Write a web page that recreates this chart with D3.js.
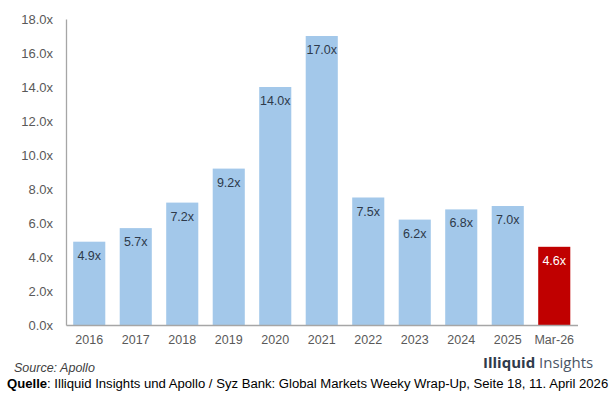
<!DOCTYPE html>
<html>
<head>
<meta charset="utf-8">
<script src="https://cdn.jsdelivr.net/npm/d3@7"></script>
<style>
  html, body { margin: 0; padding: 0; background: #ffffff; }
  svg { display: block; }
</style>
</head>
<body>
<svg id="chart" width="614" height="394"></svg>
<script>
// Categories, multiples and axis ticks
const categories = ["2016", "2017", "2018", "2019", "2020", "2021", "2022", "2023", "2024", "2025", "Mar-26"];
const multiples  = [4.9, 5.7, 7.2, 9.2, 14.0, 17.0, 7.5, 6.2, 6.8, 7.0, 4.6];
const highlighted = ["Mar-26"];
const yTicks = [0, 2, 4, 6, 8, 10, 12, 14, 16, 18];

const svg = d3.select("#chart");
const plot = { left: 66, right: 577.5, top: 19, bottom: 325 };

const x = d3.scaleBand()
  .domain(categories)
  .range([plot.left, plot.right])
  .paddingInner(0.31)
  .paddingOuter(0.155);

const y = d3.scaleLinear()
  .domain([0, 18])
  .range([plot.bottom, plot.top]);

const fmt = v => v.toFixed(1) + "x";
const font = "'Liberation Sans', Arial, sans-serif";

// Bars
svg.append("g")
  .selectAll("rect")
  .data(categories)
  .join("rect")
  .attr("x", d => x(d))
  .attr("width", x.bandwidth())
  .attr("y", (d, i) => y(multiples[i]))
  .attr("height", (d, i) => y(0) - y(multiples[i]))
  .attr("fill", d => highlighted.includes(d) ? "#c00000" : "#a3c8ea");

// Value labels inside the top of each bar
svg.append("g")
  .selectAll("text")
  .data(categories)
  .join("text")
  .attr("x", d => x(d) + x.bandwidth() / 2)
  .attr("y", (d, i) => y(multiples[i]) + 18)
  .attr("text-anchor", "middle")
  .attr("font-family", font)
  .attr("font-size", 12.5)
  .attr("fill", d => highlighted.includes(d) ? "#ffffff" : "#2e3a4a")
  .text((d, i) => fmt(multiples[i]));

// Y axis
const yAxis = svg.append("g")
  .attr("transform", `translate(${plot.left},0)`)
  .call(d3.axisLeft(y).tickValues(yTicks).tickFormat(fmt).tickSize(0).tickPadding(13));
yAxis.select(".domain").attr("stroke", "#a6a6a6").attr("stroke-width", 1.3);
yAxis.selectAll("text")
  .attr("font-family", font)
  .attr("font-size", 13)
  .attr("fill", "#595959");

// X axis
const xAxis = svg.append("g")
  .attr("transform", `translate(0,${plot.bottom})`)
  .call(d3.axisBottom(x).tickSize(0).tickPadding(10));
xAxis.select(".domain").attr("stroke", "#a6a6a6").attr("stroke-width", 1.3);
xAxis.selectAll("text")
  .attr("font-family", font)
  .attr("font-size", 12.5)
  .attr("fill", "#595959");

// Source note
svg.append("text")
  .attr("x", 14).attr("y", 372)
  .attr("font-family", font)
  .attr("font-size", 12.5)
  .attr("font-style", "italic")
  .attr("fill", "#404040")
  .text("Source: Apollo");

// Brand mark
const brand = svg.append("text")
  .attr("x", 483).attr("y", 368)
  .attr("font-family", "'Open Sans', 'Noto Sans', sans-serif")
  .attr("font-size", 15)
  .attr("fill", "#3a4555");
brand.append("tspan").attr("font-weight", "bold").attr("fill", "#2f3a4b").text("Illiquid");
brand.append("tspan").attr("fill", "#4a5566").text(" Insights");

// Attribution line, condensed horizontally to fit the full width
const quelle = svg.append("text")
  .attr("x", 0).attr("y", 0)
  .attr("font-family", "'Liberation Sans Narrow', 'Liberation Sans', Arial, sans-serif")
  .attr("font-size", 13.5)
  .attr("fill", "#000000");
quelle.append("tspan").attr("font-weight", "bold").text("Quelle");
quelle.append("tspan").text(": Illiquid Insights und Apollo / Syz Bank: Global Markets Weeky Wrap-Up, Seite 18, 11. April 2026");
const natural = quelle.node().getComputedTextLength();
const squeeze = Math.min(1, 602 / natural);
quelle.attr("transform", `translate(7,388) scale(${squeeze},1)`);
</script>
</body>
</html>
